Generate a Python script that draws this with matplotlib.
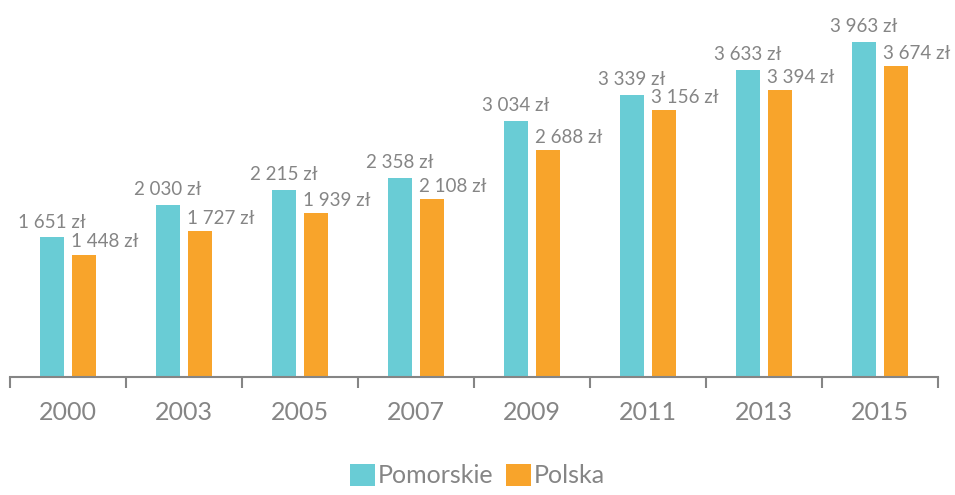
import numpy as np
from matplotlib import pyplot as plt

years = ["2000", "2003", "2005", "2007", "2009", "2011", "2013", "2015"]
pomorskie = [1651, 2030, 2215, 2358, 3034, 3339, 3633, 3963]
polska = [1448, 1727, 1939, 2108, 2688, 3156, 3394, 3674]

teal = "#69CCD5"
orange = "#F8A42B"
grey = "#858585"

plt.rcParams["font.family"] = ["Lato", "DejaVu Sans"]

fig = plt.figure(figsize=(9.55, 4.95), dpi=100)
ax = fig.add_axes([10/955, 118/495, 928/955, 367/495])

x = np.arange(len(years))
w = 0.21
gap = 0.035
b1 = ax.bar(x - w/2 - gap, pomorskie, w, color=teal, label="Pomorskie")
b2 = ax.bar(x + w/2 + gap, polska, w, color=orange, label="Polska")

def fmt(v):
    return f"{v:,}".replace(",", " ") + " zł"

for r, v in zip(b1, pomorskie):
    ax.annotate(fmt(v), (r.get_x() + r.get_width()/2, v), xytext=(0, 5),
                textcoords="offset points", ha="center", va="bottom",
                fontsize=13.5, color=grey)
for r, v in zip(b2, polska):
    ax.annotate(fmt(v), (r.get_x(), v), xytext=(-1, 3),
                textcoords="offset points", ha="left", va="bottom",
                fontsize=13.5, color=grey)

ax.set_xlim(-0.5, len(years) - 0.5)
ax.set_ylim(0, 4342)
ax.set_yticks([])
for s in ["top", "right", "left"]:
    ax.spines[s].set_visible(False)
ax.spines["bottom"].set_color(grey)
ax.spines["bottom"].set_linewidth(1.5)

ax.set_xticks(np.arange(len(years) + 1) - 0.5)
ax.set_xticklabels([])
ax.set_xticks(x, minor=True)
ax.set_xticklabels(years, minor=True, fontsize=18, color=grey)
ax.tick_params(axis="x", which="major", length=8, width=1.5, color=grey, direction="out")
ax.tick_params(axis="x", which="minor", length=0, pad=17)

fig.legend(handles=[b1, b2], loc="lower center", bbox_to_anchor=(0.5, -0.03), ncol=2,
           frameon=False, labelcolor=grey, handlelength=1.0,
           handleheight=1.0, handletextpad=0.1, columnspacing=0.5,
           prop={"size": 18})

fig.savefig("out.png", dpi=100)
